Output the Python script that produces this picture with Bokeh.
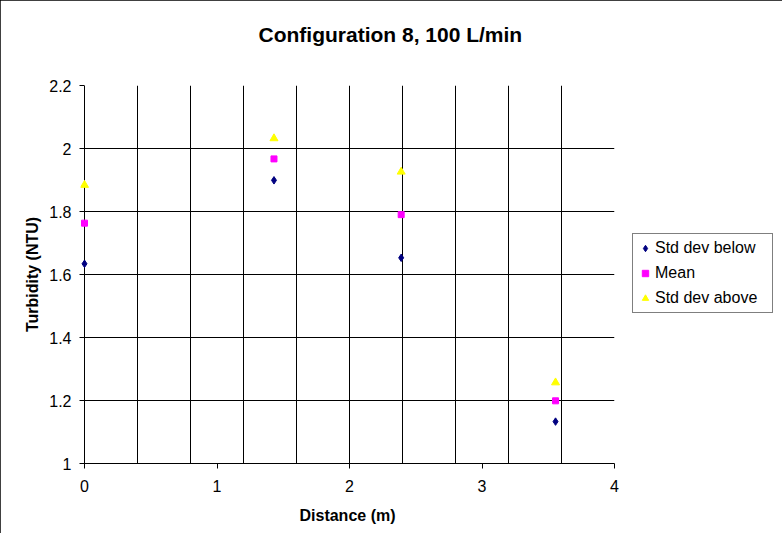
from bokeh.plotting import figure
from bokeh.models import (FixedTicker, CustomJSTickFormatter, Legend, LegendItem,
                          Range1d, Grid, Title)
from bokeh.embed import file_html
from bokeh.resources import INLINE

# ---- data ----
distance = [0.0, 1.43, 2.39, 3.555]
std_below = [1.634, 1.899, 1.653, 1.133]
mean_vals = [1.763, 1.967, 1.790, 1.199]
std_above = [1.884, 2.032, 1.926, 1.257]

x_ticks = [0, 1, 2, 3, 4]
y_ticks = [1.0, 1.2, 1.4, 1.6, 1.8, 2.0, 2.2]
x_grid = [0.0, 0.4, 0.8, 1.2, 1.6, 2.0, 2.4, 2.8, 3.2, 3.6]
y_grid = [1.2, 1.4, 1.6, 1.8, 2.0]
x_edge = [4.0]
y_edge = [2.2]

title_text = "Configuration 8, 100 L/min"
x_title = "Distance (m)"
y_title = "Turbidity (NTU)"
series_names = ["Std dev below", "Mean", "Std dev above"]

FONT = "Liberation Sans"
PX_PER_UNIT = 132.5
pad = 4 / PX_PER_UNIT  # small room so markers at x=0 are not clipped

p = figure(frame_width=534, frame_height=378,
           min_border_left=80, min_border_right=152,
           min_border_top=85, min_border_bottom=70,
           x_range=Range1d(-pad, 4), y_range=Range1d(1, 2.2),
           output_backend="svg", toolbar_location=None,
           background_fill_color="white", border_fill_color="white")
p.styles = {"outline": "1px solid black", "outline-offset": "-1px"}
p.outline_line_color = None

# real title (outermost) with an invisible spacer between it and the frame
p.title.text = title_text
p.title.align = "left"
p.title.offset = 178
p.title.standoff = 0
p.title.vertical_align = "bottom"
p.title.text_font = FONT
p.title.text_font_size = "21px"
p.title.text_font_style = "bold"
p.title.text_color = "black"
p.add_layout(Title(text=" ", text_font=FONT, text_font_size="16px",
                   standoff=21), "above")

fmt = CustomJSTickFormatter(code="return tick.toFixed(1).replace(/\\.0$/, '');")

p.xaxis.ticker = FixedTicker(ticks=x_ticks)
p.yaxis.ticker = FixedTicker(ticks=y_ticks)
p.xgrid[0].ticker = FixedTicker(ticks=x_grid)
p.ygrid[0].ticker = FixedTicker(ticks=y_grid)

for ax in (p.xaxis[0], p.yaxis[0]):
    ax.formatter = fmt
    ax.axis_line_color = "black"
    ax.axis_line_width = 1
    ax.major_tick_line_color = "black"
    ax.minor_tick_line_color = None
    ax.major_label_text_font = FONT
    ax.major_label_text_font_size = "16px"
    ax.major_label_text_color = "black"
    ax.axis_label_text_font = FONT
    ax.axis_label_text_font_size = "16px"
    ax.axis_label_text_font_style = "bold"
    ax.axis_label_text_color = "black"

xa = p.xaxis[0]
xa.axis_label = x_title
xa.major_tick_out = 5
xa.major_tick_in = 0
xa.major_label_standoff = 11
xa.axis_label_standoff = 12

ya = p.yaxis[0]
ya.axis_label = y_title
ya.axis_line_color = None   # the 0 gridline stands in for the axis line
ya.major_tick_out = 1
ya.major_tick_in = 4
ya.major_label_standoff = 8
ya.axis_label_standoff = 5

for g in (p.xgrid[0], p.ygrid[0]):
    g.grid_line_color = "black"
    g.grid_line_alpha = 1.0
    g.grid_line_width = 1

p.add_layout(Grid(dimension=0, ticker=FixedTicker(ticks=x_edge),
                  grid_line_color="#808080", grid_line_width=1))
p.add_layout(Grid(dimension=1, ticker=FixedTicker(ticks=y_edge),
                  grid_line_color="#808080", grid_line_width=1))

r1 = p.scatter(distance, std_below, marker="diamond", size=7.5,
               fill_color="#000080", line_color="#000080")
r2 = p.scatter(distance, mean_vals, marker="square", size=6,
               fill_color="#FF00FF", line_color="#FF00FF")
r3 = p.scatter(distance, std_above, marker="triangle", size=8,
               fill_color="#FFFF00", line_color="#FFFF00")

legend = Legend(items=[LegendItem(label=series_names[0], renderers=[r1]),
                       LegendItem(label=series_names[1], renderers=[r2]),
                       LegendItem(label=series_names[2], renderers=[r3])],
                location=(18, 150), orientation="vertical",
                border_line_color="black", border_line_width=1,
                background_fill_color="white", background_fill_alpha=1.0,
                label_text_font=FONT, label_text_font_size="16px",
                label_text_color="black",
                glyph_width=16, glyph_height=20, label_height=20,
                label_width=113, label_standoff=2, padding=4, spacing=5,
                margin=0)
p.add_layout(legend, "right")

open("out.html", "w").write(file_html(p, INLINE))
